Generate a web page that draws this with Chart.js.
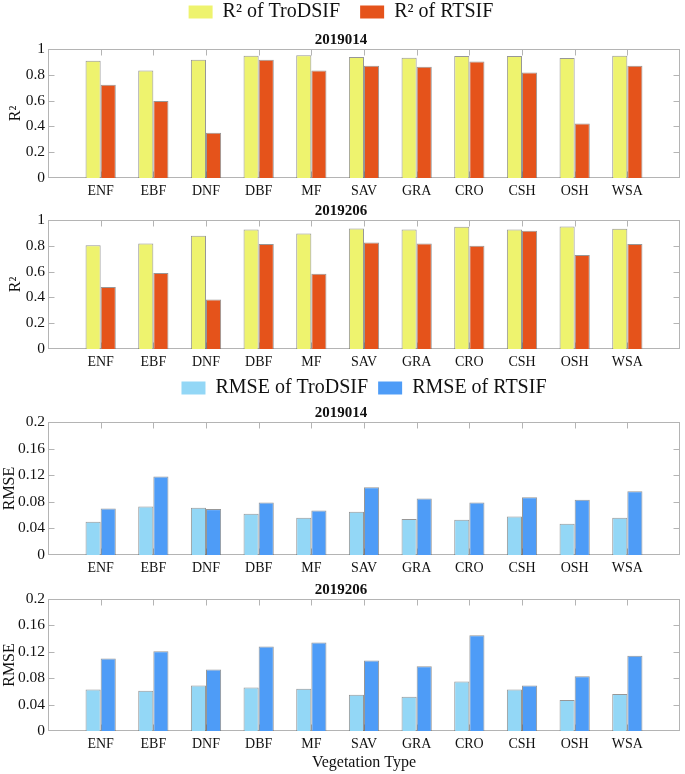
<!DOCTYPE html>
<html>
<head>
<meta charset="utf-8">
<script src="https://cdn.jsdelivr.net/npm/chart.js@4.4.1/dist/chart.umd.min.js"></script>
<style>
  html, body { margin: 0; padding: 0; background: #fff; overflow: hidden; }
  #wrap { position: relative; width: 685px; height: 774px; }
  canvas { position: absolute; left: 0; }
</style>
</head>
<body>
<div id="wrap">
  <canvas id="r2a" width="685" height="219" style="top:-18px"></canvas>
  <canvas id="r2b" width="685" height="170" style="top:202px"></canvas>
  <canvas id="rmsea" width="685" height="210" style="top:368px"></canvas>
  <canvas id="rmseb" width="685" height="193" style="top:581px"></canvas>
</div>
<script>
const vegTypes = ['ENF', 'EBF', 'DNF', 'DBF', 'MF', 'SAV', 'GRA', 'CRO', 'CSH', 'OSH', 'WSA'];
const dates = ['2019014', '2019206'];

const r2TroDSIF014 = [0.909, 0.834, 0.917, 0.948, 0.951, 0.938, 0.932, 0.945, 0.945, 0.930, 0.947];
const r2RTSIF014 = [0.722, 0.597, 0.351, 0.917, 0.834, 0.870, 0.862, 0.904, 0.818, 0.423, 0.870];
const r2TroDSIF206 = [0.805, 0.818, 0.878, 0.927, 0.896, 0.935, 0.927, 0.948, 0.927, 0.950, 0.933];
const r2RTSIF206 = [0.480, 0.590, 0.384, 0.813, 0.584, 0.826, 0.818, 0.800, 0.917, 0.728, 0.813];

const rmseTroDSIF014 = [0.050, 0.073, 0.071, 0.062, 0.056, 0.065, 0.054, 0.053, 0.058, 0.047, 0.056];
const rmseRTSIF014 = [0.070, 0.118, 0.069, 0.079, 0.067, 0.102, 0.085, 0.079, 0.087, 0.083, 0.096];
const rmseTroDSIF206 = [0.063, 0.061, 0.069, 0.066, 0.064, 0.055, 0.052, 0.075, 0.063, 0.047, 0.056];
const rmseRTSIF206 = [0.110, 0.121, 0.093, 0.128, 0.134, 0.107, 0.098, 0.145, 0.069, 0.083, 0.114];

const r2Ticks = [0, 0.2, 0.4, 0.6, 0.8, 1];
const r2TickLabels = ['0', '0.2', '0.4', '0.6', '0.8', '1'];
const rmseTicks = [0, 0.04, 0.08, 0.12, 0.16, 0.2];
const rmseTickLabels = ['0', '0.04', '0.08', '0.12', '0.16', '0.2'];

const serif = "'Liberation Serif', 'Times New Roman', serif";
const ink = '#111';

// MATLAB-like box with inward ticks on all four sides
const boxAxes = {
    id: 'boxAxes',
    beforeDatasetsDraw(chart) {
        const { ctx, chartArea: a, scales: { x, y } } = chart;
        const L = Math.round(a.left) + 0.5, R = Math.round(a.right) - 0.5;
        const T = Math.round(a.top) + 0.5, B = Math.round(a.bottom) - 0.5;
        const len = 6;
        ctx.save();
        ctx.strokeStyle = '#b4b4b4';
        ctx.lineWidth = 1;
        ctx.strokeRect(L, T, R - L, B - T);
        ctx.beginPath();
        for (let i = 1; i < x.ticks.length - 1; i++) {
            const px = Math.round(x.getPixelForTick(i)) + 0.5;
            ctx.moveTo(px, T); ctx.lineTo(px, T + len);
            ctx.moveTo(px, B); ctx.lineTo(px, B - len);
        }
        y.ticks.forEach((t, i) => {
            if (i === 0 || i === y.ticks.length - 1) return;
            const py = Math.round(y.getPixelForValue(t.value)) + 0.5;
            ctx.moveTo(L, py); ctx.lineTo(L + len, py);
            ctx.moveTo(R, py); ctx.lineTo(R - len, py);
        });
        ctx.stroke();
        ctx.restore();
    }
};

function padded(arr) {
    return [null, ...arr, null];
}

function makePanel(id, cfg) {
    const ctx = document.getElementById(id).getContext('2d');
    new Chart(ctx, {
        type: 'bar',
        data: {
            labels: ['', ...vegTypes, ''],
            datasets: cfg.series.map(s => ({
                label: s.label,
                data: padded(s.data),
                backgroundColor: s.color,
                borderColor: 'rgba(95, 95, 95, 0.65)',
                borderWidth: 1,
                categoryPercentage: 0.574,
                barPercentage: 1
            }))
        },
        options: {
            responsive: false,
            animation: false,
            layout: { padding: { left: 0, right: 3, top: 0, bottom: 0 } },
            plugins: {
                tooltip: { enabled: false },
                title: {
                    display: true,
                    text: cfg.title,
                    color: ink,
                    weight: 500,
                    font: { family: serif, size: 15, weight: 'bold', lineHeight: '18px' },
                    padding: { top: cfg.titlePadTop, bottom: 0 }
                },
                legend: {
                    display: cfg.legend,
                    weight: 3000,
                    fullSize: cfg.legendFull,
                    labels: {
                        color: ink,
                        font: { family: serif, size: 20 },
                        boxWidth: 24,
                        boxHeight: 13,
                        padding: cfg.legendPad,
                        generateLabels(chart) {
                            const items = Chart.defaults.plugins.legend.labels.generateLabels(chart);
                            items.forEach(it => { it.lineWidth = 0; });
                            return items;
                        }
                    }
                }
            },
            scales: {
                x: {
                    offset: false,
                    grid: { display: false, drawTicks: false },
                    border: { display: false },
                    ticks: {
                        autoSkip: false,
                        maxRotation: 0,
                        padding: 5,
                        color: ink,
                        font: { family: serif, size: 14 }
                    },
                    title: {
                        display: cfg.xTitle,
                        text: 'Vegetation Type',
                        color: ink,
                        font: { family: serif, size: 16 },
                        padding: { top: 0, bottom: 2 }
                    },
                    afterFit(scale) { scale.height = cfg.xHeight; }
                },
                y: {
                    min: 0,
                    max: cfg.ticks[cfg.ticks.length - 1],
                    grid: { display: false, drawTicks: false },
                    border: { display: false },
                    ticks: {
                        padding: 3,
                        color: ink,
                        font: { family: serif, size: 15.5 },
                        callback: (v, i) => cfg.tickLabels[i]
                    },
                    afterBuildTicks(scale) {
                        scale.ticks = cfg.ticks.map(v => ({ value: v }));
                    },
                    title: {
                        display: true,
                        text: cfg.yTitle,
                        color: ink,
                        font: { family: serif, size: 16 },
                        padding: { top: cfg.yTitlePad, bottom: 0 }
                    },
                    afterFit(scale) { scale.width = 48; }
                }
            }
        },
        plugins: [boxAxes]
    });
}

makePanel('r2a', {
    title: dates[0], titlePadTop: -1, legend: true, legendFull: true, legendPad: 20,
    yTitle: 'R²', yTitlePad: 6, ticks: r2Ticks, tickLabels: r2TickLabels, xTitle: false, xHeight: 23,
    series: [
        { label: 'R² of TroDSIF', data: r2TroDSIF014, color: '#EEF36E' },
        { label: 'R² of RTSIF', data: r2RTSIF014, color: '#E5531B' }
    ]
});

makePanel('r2b', {
    title: dates[1], titlePadTop: 0, legend: false, legendFull: true, legendPad: 20,
    yTitle: 'R²', yTitlePad: 6, ticks: r2Ticks, tickLabels: r2TickLabels, xTitle: false, xHeight: 23,
    series: [
        { label: 'R² of TroDSIF', data: r2TroDSIF206, color: '#EEF36E' },
        { label: 'R² of RTSIF', data: r2RTSIF206, color: '#E5531B' }
    ]
});

makePanel('rmsea', {
    title: dates[0], titlePadTop: -4, legend: true, legendFull: false, legendPad: 10,
    yTitle: 'RMSE', yTitlePad: 0, ticks: rmseTicks, tickLabels: rmseTickLabels, xTitle: false, xHeight: 23,
    series: [
        { label: 'RMSE of TroDSIF', data: rmseTroDSIF014, color: '#93D7F6' },
        { label: 'RMSE of RTSIF', data: rmseRTSIF014, color: '#4E9CF7' }
    ]
});

makePanel('rmseb', {
    title: dates[1], titlePadTop: 0, legend: false, legendFull: true, legendPad: 10,
    yTitle: 'RMSE', yTitlePad: 0, ticks: rmseTicks, tickLabels: rmseTickLabels, xTitle: true, xHeight: 43,
    series: [
        { label: 'RMSE of TroDSIF', data: rmseTroDSIF206, color: '#93D7F6' },
        { label: 'RMSE of RTSIF', data: rmseRTSIF206, color: '#4E9CF7' }
    ]
});
</script>
</body>
</html>
